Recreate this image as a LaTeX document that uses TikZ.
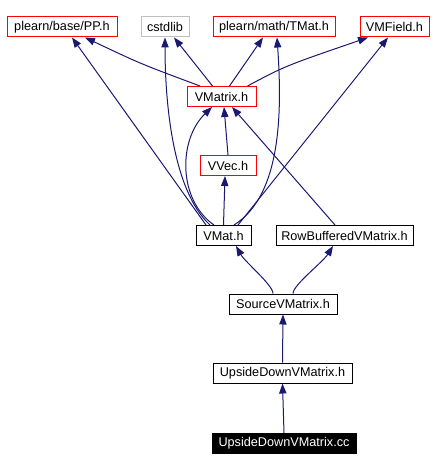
\documentclass[tikz,border=0pt]{standalone}
\usepackage{fontspec}
\setmainfont{Liberation Sans}
\usetikzlibrary{arrows.meta,shapes}

\definecolor{edgeblue}{RGB}{25,25,112}
\definecolor{boxred}{RGB}{255,0,0}
\definecolor{boxgrey}{RGB}{191,191,191}

\begin{document}
\begin{tikzpicture}[x=0.75pt, y=-0.75pt]
		\useasboundingbox (0,0) rectangle (436,470);
		\tikzstyle{every node} = [rectangle, draw=black, line width=0.75pt, minimum height=15pt, inner sep=0pt, font=\fontsize{9.5}{11}\selectfont]
		\tikzstyle{redbox} = [draw=boxred]
		\tikzstyle{greybox} = [draw=boxgrey]
		\tikzstyle{mainbox} = [fill=black, text=white]
		\node[redbox, minimum width=82.5pt] (1) at (62,27) {plearn/base/PP.h};
		\node[greybox, minimum width=36pt] (2) at (165,27) {cstdlib};
		\node[redbox, minimum width=91.5pt] (3) at (274,27) {plearn/math/TMat.h};
		\node[redbox, minimum width=51.75pt] (4) at (394.5,27) {VMField.h};
		\node[redbox, minimum width=51.75pt] (5) at (221.5,96.5) {VMatrix.h};
		\node[redbox, minimum width=42pt] (6) at (228,165.5) {VVec.h};
		\node[minimum width=41.25pt] (7) at (223.5,235.5) {VMat.h};
		\node[minimum width=102.75pt] (8) at (344.5,235.5) {RowBufferedVMatrix.h};
		\node[minimum width=81pt] (9) at (283,304) {SourceVMatrix.h};
		\node[minimum width=104.25pt] (10) at (282.5,373) {UpsideDownVMatrix.h};
		\node[mainbox, minimum width=108pt] (11) at (284,443.5) {UpsideDownVMatrix.cc};

		\tikzstyle{dep} = [draw=edgeblue, line width=0.75pt, -{Triangle[length=7.5pt,width=5.5pt]}]
		\draw [dep] ([shift={(-21.5,0)}]5.north) .. controls (141,64) .. ([shift={(23,0)}]1.south);
		\draw [dep] ([shift={(-9,0)}]5.north) -- ([shift={(9,0)}]2.south);
		\draw [dep] ([shift={(8,0)}]5.north) -- ([shift={(-11,0)}]3.south);
		\draw [dep] ([shift={(26,0)}]5.north) .. controls (285,66) .. ([shift={(-26.5,0)}]4.south);
		\draw [dep] (6.north) -- ([shift={(2.5,0)}]5.south);
		\draw [dep] ([shift={(-17.5,0)}]7.north) -- ([shift={(10,0)}]1.south);
		\draw [dep] ([shift={(-13.5,0)}]7.north) .. controls (172,190) and (165,100) .. (2.south);
		\draw [dep] ([shift={(-9.5,0)}]7.north) .. controls (178,200) and (178,140) .. ([shift={(-9.5,0)}]5.south);
		\draw [dep] (7.north) -- ([shift={(-3,0)}]6.south);
		\draw [dep] ([shift={(10.5,0)}]7.north) .. controls (282,195) and (282,110) .. ([shift={(3,0)}]3.south);
		\draw [dep] ([shift={(14.5,0)}]7.north) -- ([shift={(-6.5,0)}]4.south);
		\draw [dep] ([shift={(-9.5,0)}]8.north) -- ([shift={(10.5,0)}]5.south);
		\draw [dep] ([shift={(-10,0)}]9.north) .. controls (273,285) and (245,262) .. ([shift={(12.5,0)}]7.south);
		\draw [dep] ([shift={(10,0)}]9.north) .. controls (293,285) and (323,262) .. ([shift={(-11.5,0)}]8.south);
		\draw [dep] (10.north) -- (9.south);
		\draw [dep] (11.north) -- (10.south);
\end{tikzpicture}
\end{document}
